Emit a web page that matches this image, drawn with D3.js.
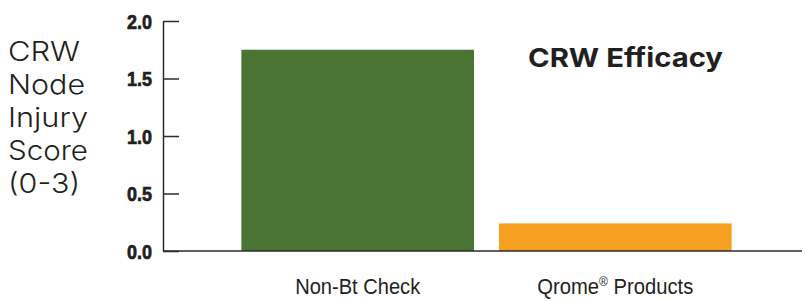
<!DOCTYPE html>
<html>
<head>
<meta charset="utf-8">
<script src="https://cdn.jsdelivr.net/npm/d3@7"></script>
<style>
  html, body { margin: 0; padding: 0; background: #ffffff; }
  svg { display: block; }
</style>
</head>
<body>
<div id="chart"></div>
<script>
// Chart data
const categories = ['Non-Bt Check', 'Qrome® Products'];
const scores = [1.75, 0.24];
const barColors = ['#4a7535', '#f6a021'];
const yTicks = [0, 0.5, 1.0, 1.5, 2.0];
const yTitleLines = ['CRW', 'Node', 'Injury', 'Score', '(0-3)'];

const width = 805, height = 301;

const svg = d3.select('#chart')
  .append('svg')
  .attr('width', width)
  .attr('height', height);

// Scales
const x = d3.scaleBand()
  .domain(categories)
  .range([228.5, 744.5])
  .paddingInner(0.097)
  .paddingOuter(0.05);

const y = d3.scaleLinear()
  .domain([0, 2])
  .range([251, 21]);

const axisX = 163;

// Bars
svg.append('g')
  .selectAll('rect')
  .data(categories)
  .join('rect')
  .attr('x', d => x(d))
  .attr('width', x.bandwidth())
  .attr('y', (d, i) => y(scores[i]))
  .attr('height', (d, i) => y(0) - y(scores[i]))
  .attr('fill', (d, i) => barColors[i]);

// Y axis (line + ticks on the right side)
const yAxis = d3.axisRight(y)
  .tickValues(yTicks)
  .tickSize(16)
  .tickSizeOuter(0)
  .tickFormat('');

const yg = svg.append('g')
  .attr('transform', `translate(${axisX},0)`)
  .call(yAxis);
yg.select('.domain').attr('stroke', '#2b2b2b').attr('stroke-width', 1.5);
yg.selectAll('.tick line').attr('stroke', '#2b2b2b').attr('stroke-width', 1.5);

// Tick labels (condensed heavy look)
svg.append('g')
  .selectAll('text')
  .data(yTicks)
  .join('text')
  .attr('x', 152)
  .attr('y', d => y(d))
  .attr('dy', '0.36em')
  .attr('text-anchor', 'end')
  .attr('font-family', '"Liberation Sans", Arial, sans-serif')
  .attr('font-weight', 'bold')
  .attr('font-size', '21px')
  .attr('textLength', 25)
  .attr('lengthAdjust', 'spacingAndGlyphs')
  .attr('fill', '#231f20')
  .attr('stroke', '#231f20')
  .attr('stroke-width', 0.7)
  .text(d => d3.format('.1f')(d));

// Baseline
svg.append('line')
  .attr('x1', axisX)
  .attr('x2', 802)
  .attr('y1', y(0))
  .attr('y2', y(0))
  .attr('stroke', '#2b2b2b')
  .attr('stroke-width', 1.5);

// Category labels
const catWidths = [125, 156];
svg.append('g')
  .selectAll('text')
  .data(categories)
  .join('text')
  .attr('x', d => x(d) + x.bandwidth() / 2)
  .attr('y', 294)
  .attr('text-anchor', 'middle')
  .attr('font-family', '"Liberation Sans", Arial, sans-serif')
  .attr('font-size', '22px')
  .attr('fill', '#231f20')
  .attr('textLength', (d, i) => catWidths[i])
  .attr('lengthAdjust', 'spacingAndGlyphs')
  .each(function (d) {
    const t = d3.select(this);
    if (d.includes('®')) {
      const parts = d.split('®');
      t.append('tspan').text(parts[0]);
      t.append('tspan').attr('dy', -8).attr('font-size', '13px').text('®');
      t.append('tspan').attr('dy', 8).text(parts[1]);
    } else {
      t.text(d);
    }
  });

// Y title
const titleWidths = [72, 77, 80, 80, 72];
svg.append('g')
  .selectAll('text')
  .data(yTitleLines)
  .join('text')
  .attr('x', 8)
  .attr('y', (d, i) => 61 + i * 33)
  .attr('font-family', 'Inter, "Noto Sans", sans-serif')
  .attr('font-size', '27px')
  .attr('font-weight', 300)
  .attr('fill', '#231f20')
  .attr('textLength', (d, i) => titleWidths[i])
  .attr('lengthAdjust', 'spacingAndGlyphs')
  .text(d => d);

// Chart title
svg.append('text')
  .attr('x', 528)
  .attr('y', 67)
  .attr('font-family', 'Inter, "Noto Sans", sans-serif')
  .attr('font-size', '26px')
  .attr('font-weight', 'bold')
  .attr('fill', '#231f20')
  .attr('textLength', 195)
  .attr('lengthAdjust', 'spacingAndGlyphs')
  .text('CRW Efficacy');
</script>
</body>
</html>
